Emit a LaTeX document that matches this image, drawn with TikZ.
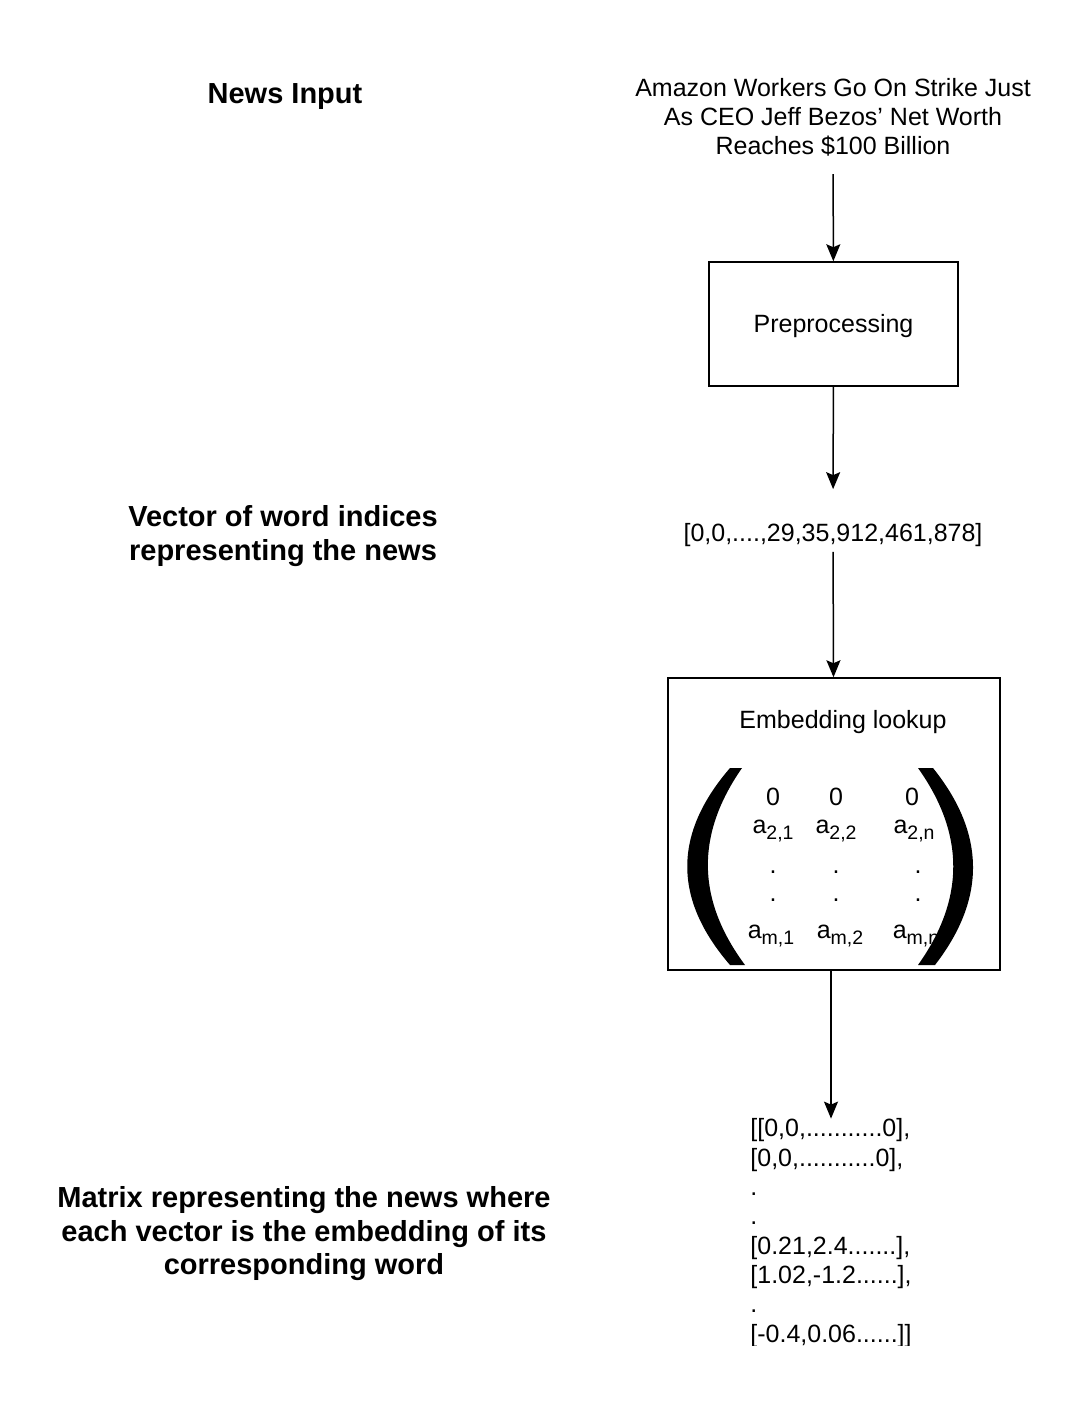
\documentclass[tikz,border=0pt]{standalone}
\usepackage{fontspec}
\setmainfont{Liberation Sans}
\usetikzlibrary{arrows.meta}
\newcommand\idx[1]{\raisebox{-0.4ex}{\fontsize{19.5}{19.5}\selectfont #1}}
\tikzset{
  conn/.style={line width=1.5pt, -{Stealth[length=17pt,width=14pt,inset=3pt]}},
  title/.style={font=\fontsize{29}{33.5}\selectfont\bfseries, align=center, inner sep=0pt},
  txt/.style={font=\fontsize{25}{29}\selectfont, align=center, inner sep=0pt},
  box/.style={draw, line width=1.5pt, inner sep=0pt},
}
\begin{document}
\begin{tikzpicture}[x=1pt, y=-1pt]
\useasboundingbox (0,0) rectangle (1079,1416);
\node[title] (t1) at (285,97) {News Input};
\node[title] (t2) at (283,536) {Vector of word indices\\representing the news};
\node[title] (t3) at (304,1234) {Matrix representing the news where\\each vector is the embedding of its\\corresponding word};
\node[txt] (head) at (833,117) {Amazon Workers Go On Strike Just\\As CEO Jeff Bezos’ Net Worth\\Reaches \$100 Billion};
\node[box, minimum width=249, minimum height=124] (pre) at (833.5,324) {};
\node[txt] (prel) at (833.5,326) {Preprocessing};
\node[txt] (vec) at (833,535) {[0,0,....,29,35,912,461,878]};
\node[box, minimum width=332, minimum height=292] (emb) at (834,824) {};
\node[txt] (embl) at (843,722) {Embedding lookup};
\node[txt] (m11) at (773,797) {0};
\node[txt] (m12) at (836,797) {0};
\node[txt] (m13) at (912,797) {0};
\node[txt] (m21) at (773,831) {a\idx{2,1}};
\node[txt] (m22) at (836,831) {a\idx{2,2}};
\node[txt] (m23) at (914,831) {a\idx{2,n}};
\node[txt] (m31) at (773,872) {.};
\node[txt] (m32) at (836,872) {.};
\node[txt] (m33) at (918,872) {.};
\node[txt] (m41) at (773,900) {.};
\node[txt] (m42) at (836,900) {.};
\node[txt] (m43) at (918,900) {.};
\node[txt] (m51) at (771,936) {a\idx{m,1}};
\node[txt] (m52) at (840,936) {a\idx{m,2}};
\node[txt] (m53) at (916,936) {a\idx{m,n}};
\fill (730,768) .. controls (673,834) and (673,899) .. (730,965)
  -- (745,965) .. controls (696,899) and (696,834) .. (742,768) -- cycle;
\fill (933,768) .. controls (986,834) and (986,899) .. (935,965)
  -- (918,965) .. controls (965,899) and (965,834) .. (918,768) -- cycle;
\begin{scope}
\clip (0,0) rectangle (1079,1345);
\node[txt, align=left, font=\fontsize{25}{29.3}\selectfont] (out) at (831,1233) {[[0,0,...........0],\\{}[0,0,...........0],\\.\\.\\{}[0.21,2.4.......],\\{}[1.02,-1.2......],\\.\\{}[-0.4,0.06......]]};
\end{scope}
\draw[conn, shorten <=18pt] (head) -- (pre);
\draw[conn, shorten >=34pt] (pre) -- (vec);
\draw[conn, shorten <=5pt] (vec) -- (emb);
\draw[conn] (emb.south -| out.north) -- (out.north);
\end{tikzpicture}
\end{document}
